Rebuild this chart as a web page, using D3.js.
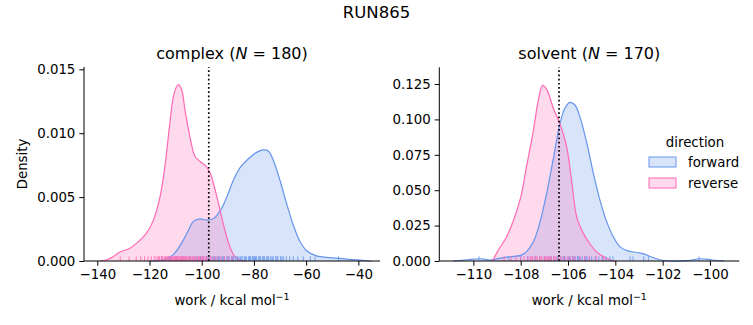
<!DOCTYPE html>
<html><head><meta charset="utf-8">
<script src="https://cdn.jsdelivr.net/npm/d3@7"></script>
<style>body{margin:0;background:#fff;} text{font-family:"DejaVu Sans",sans-serif;fill:#000;}</style>
</head><body>
<svg id="c" width="753" height="325"></svg>
<script>
// ---- data ----
const directions = ["forward", "reverse"];
const colors = ["#6495ED", "#FF69B4"];

// complex panel: KDE curves [work, density]
const complexForwardX = [-119.8,-114.7,-110.9,-107.7,-105.1,-103.2,-100.7,-98.1,-95.6,-93.0,-90.4,-87.9,-85.3,-82.1,-79.0,-76.4,-74.5,-72.6,-70.0,-67.5,-64.9,-62.3,-59.8,-56.0,-50.9,-47.0,-41.9,-36.8,-35.0];
const complexForwardY = [0,0.00008,0.0005,0.0014,0.0024,0.0031,0.0033,0.0032,0.0033,0.0039,0.0050,0.0063,0.0073,0.0080,0.0085,0.0087,0.0086,0.0079,0.0063,0.0045,0.0028,0.0015,0.0008,0.0004,0.00026,0.0002,0.0001,0.00002,0];
const complexReverseX = [-139.0,-136.4,-133.9,-131.3,-127.5,-124.9,-121.1,-118.5,-116.0,-114.1,-112.2,-110.6,-109.0,-107.7,-106.4,-104.5,-102.6,-100.7,-98.7,-96.8,-94.9,-93.0,-91.1,-89.2,-87.3,-85.3,-83.4];
const complexReverseY = [0,0.0001,0.00034,0.0007,0.0010,0.0014,0.0022,0.0032,0.0050,0.0074,0.0108,0.0131,0.0138,0.0134,0.0118,0.0097,0.0082,0.0078,0.0075,0.0069,0.0056,0.0040,0.0024,0.0011,0.00034,0.0001,0];
const complexForwardRug = [-112.3,-109.8,-107.6,-105.9,-104.4,-103.0,-101.7,-100.5,-99.8,-99.3,-98.2,-97.6,-97.1,-96.0,-95.4,-95.0,-94.1,-93.6,-93.1,-92.2,-91.7,-91.3,-90.4,-89.9,-89.5,-88.6,-88.1,-87.8,-86.9,-86.4,-86.1,-85.3,-84.9,-84.5,-83.7,-83.3,-82.9,-82.1,-81.7,-81.3,-80.6,-80.2,-79.8,-79.4,-79.0,-78.2,-77.8,-77.5,-76.7,-76.3,-75.9,-75.1,-74.7,-74.3,-73.5,-73.0,-72.6,-71.7,-71.2,-70.8,-69.8,-69.3,-68.7,-67.6,-66.3,-64.9,-63.2,-61.1,-58.4,-56.6,-47.6];
const complexReverseRug = [-131.2,-127.8,-125.1,-123.4,-121.9,-120.6,-119.3,-118.2,-117.5,-116.8,-116.4,-116.1,-115.4,-115.1,-114.9,-114.2,-113.9,-113.6,-113.1,-112.8,-112.5,-112.0,-111.8,-111.6,-111.1,-110.9,-110.7,-110.3,-110.1,-109.9,-109.5,-109.3,-109.1,-108.7,-108.5,-108.3,-107.9,-107.7,-107.5,-107.0,-106.8,-106.6,-106.1,-105.8,-105.6,-105.0,-104.7,-104.4,-103.8,-103.4,-103.1,-102.5,-102.2,-101.9,-101.2,-100.9,-100.6,-100.0,-99.7,-99.4,-98.7,-98.3,-98.0,-97.2,-96.5,-95.6,-94.7,-93.8,-92.6,-91.3,-89.9,-88.4];
const complexDeltaG = -97.3;

// solvent panel
const solventForwardX = [-110.85,-110.3,-109.7,-109.3,-108.9,-108.45,-108.0,-107.75,-107.46,-107.2,-106.9,-106.6,-106.34,-106.13,-105.92,-105.7,-105.5,-105.2,-104.93,-104.65,-104.37,-104.08,-103.8,-103.5,-103.1,-102.8,-102.5,-102.1,-101.7,-101.0,-100.4,-99.9,-99.4];
const solventForwardY = [0,0.0007,0.0016,0.0007,0.0019,0.003,0.004,0.0066,0.0137,0.0266,0.048,0.074,0.097,0.108,0.112,0.110,0.102,0.083,0.062,0.043,0.028,0.017,0.010,0.0073,0.006,0.005,0.003,0.0007,0,0.0002,0.0016,0.0007,0];
const solventReverseX = [-109.2,-109.1,-108.9,-108.6,-108.3,-108.0,-107.75,-107.46,-107.25,-107.07,-106.9,-106.6,-106.34,-106.06,-105.85,-105.63,-105.35,-105.07,-104.8,-104.5,-104.2,-104.0];
const solventReverseY = [0,0.003,0.009,0.017,0.029,0.045,0.067,0.0925,0.114,0.124,0.121,0.107,0.097,0.081,0.057,0.031,0.0195,0.012,0.0066,0.003,0.0007,0];
const solventForwardRug = [-109.76,-108.5,-108.0,-107.7,-107.4,-107.2,-107.0,-106.8,-106.7,-106.6,-106.45,-106.3,-106.2,-106.15,-106.0,-105.95,-105.9,-105.8,-105.75,-105.7,-105.6,-105.55,-105.5,-105.4,-105.3,-105.25,-105.2,-105.1,-105.0,-104.85,-104.7,-104.55,-104.4,-104.23,-104.1,-103.38,-103.25,-102.8,-102.6,-100.47];
const solventReverseRug = [-108.7,-108.4,-108.2,-108.0,-107.85,-107.7,-107.6,-107.55,-107.5,-107.4,-107.35,-107.3,-107.2,-107.15,-107.1,-107.0,-106.95,-106.9,-106.85,-106.8,-106.75,-106.7,-106.6,-106.55,-106.5,-106.4,-106.3,-106.2,-106.1,-106.0,-105.9,-105.8,-105.7,-105.5,-105.3,-105.1,-104.8,-104.5];
const solventDeltaG = -106.38;

const complexXTicks = [-140,-120,-100,-80,-60,-40];
const complexYTicks = [0,0.005,0.010,0.015];
const solventXTicks = [-110,-108,-106,-104,-102,-100];
const solventYTicks = [0,0.025,0.05,0.075,0.1,0.125];

const panels = [
  {name:"complex", n:180, left:84, right:380, top:67, bottom:261, xd:[-145.1,-31.7], yd:[0,0.01518],
   xt:complexXTicks, yt:complexYTicks, dg:complexDeltaG, ylabel:true,
   curves:[[complexForwardX,complexForwardY],[complexReverseX,complexReverseY]],
   rugs:[complexForwardRug, complexReverseRug]},
  {name:"solvent", n:170, left:439.3, right:739.3, top:67.3, bottom:261, xd:[-111.44,-98.76], yd:[0,0.1368],
   xt:solventXTicks, yt:solventYTicks, dg:solventDeltaG, ylabel:false,
   curves:[[solventForwardX,solventForwardY],[solventReverseX,solventReverseY]],
   rugs:[solventForwardRug, solventReverseRug]}
];

const svg = d3.select("#c");
const minus = s => s.replace(/-/g, "\u2212");

svg.append("text").attr("x",376.5).attr("y",18).attr("text-anchor","middle").style("font-size","16.5px").text("RUN865");

panels.forEach(p => {
  const x = d3.scaleLinear().domain(p.xd).range([p.left,p.right]);
  const y = d3.scaleLinear().domain(p.yd).range([p.bottom,p.top]);
  const g = svg.append("g");
  const area = d3.area().x(d=>x(d[0])).y0(y(0)).y1(d=>y(d[1])).curve(d3.curveCatmullRom);
  const line = d3.line().x(d=>x(d[0])).y(d=>y(d[1])).curve(d3.curveCatmullRom);
  p.curves.forEach((c,i) => {
    const pts = c[0].map((v,k)=>[v,Math.max(0,c[1][k])]);
    g.append("path").attr("d",area(pts)).attr("fill",colors[i]).attr("fill-opacity",0.25);
  });
  p.curves.forEach((c,i) => {
    const pts = c[0].map((v,k)=>[v,c[1][k]]);
    g.append("path").attr("d",line(pts)).attr("fill","none").attr("stroke",colors[i]).attr("stroke-width",1.2);
  });
  const rugH = 0.025*(p.bottom-p.top);
  p.rugs.forEach((r,i) => {
    g.selectAll(null).data(r).enter().append("line")
      .attr("x1",d=>x(d)).attr("x2",d=>x(d)).attr("y1",p.bottom).attr("y2",p.bottom-rugH)
      .attr("stroke",colors[i]).attr("stroke-opacity",0.75).attr("stroke-width",1.1);
  });
  g.append("line").attr("x1",x(p.dg)).attr("x2",x(p.dg)).attr("y1",p.bottom).attr("y2",p.top)
    .attr("stroke","#000").attr("stroke-width",1.7).attr("stroke-dasharray","1.7,2.5");

  const xa = g.append("g").attr("transform",`translate(0,${p.bottom})`)
    .call(d3.axisBottom(x).tickValues(p.xt).tickSize(4.67).tickPadding(4).tickFormat(d=>minus(String(d))));
  const ya = g.append("g").attr("transform",`translate(${p.left},0)`)
    .call(d3.axisLeft(y).tickValues(p.yt).tickSize(4.67).tickPadding(4).tickFormat(d=>d3.format(".3f")(d)));
  [xa,ya].forEach(a=>{
    a.selectAll("text").style("font-size","13.33px").style("font-family","DejaVu Sans");
    a.selectAll("line").attr("stroke","#000").attr("stroke-width",1);
    a.select(".domain").attr("stroke","#000").attr("stroke-width",1);
  });
  ya.select(".domain").attr("d",`M-0,${p.bottom}V${p.top}`);
  xa.select(".domain").attr("d",`M${p.left},0H${p.right}`);

  const cx = (p.left+p.right)/2;
  const t = svg.append("text").attr("x",cx).attr("y",59).attr("text-anchor","middle").style("font-size","16px");
  t.append("tspan").text(p.name+" (");
  t.append("tspan").style("font-style","italic").text("N");
  t.append("tspan").text(" = "+p.n+")");

  const xl = svg.append("text").attr("x",cx).attr("y",305).attr("text-anchor","middle").style("font-size","13.33px");
  xl.append("tspan").text("work / kcal mol");
  xl.append("tspan").attr("dy",-5).style("font-size","9.5px").text("\u22121");

  if (p.ylabel) {
    svg.append("text").attr("transform",`translate(27,${(p.top+p.bottom)/2}) rotate(-90)`)
      .attr("text-anchor","middle").style("font-size","13.33px").text("Density");
  }
});

// legend
const lg = svg.append("g");
lg.append("text").attr("x",695).attr("y",147).attr("text-anchor","middle").style("font-size","13.33px").text("direction");
directions.forEach((d,i)=>{
  const yy = 157 + i*21;
  lg.append("rect").attr("x",649).attr("y",yy).attr("width",27).attr("height",10)
    .attr("fill",colors[i]).attr("fill-opacity",0.25).attr("stroke",colors[i]).attr("stroke-width",1);
  lg.append("text").attr("x",688).attr("y",yy+9.5).style("font-size","13.33px").text(d);
});
</script>
</body></html>
